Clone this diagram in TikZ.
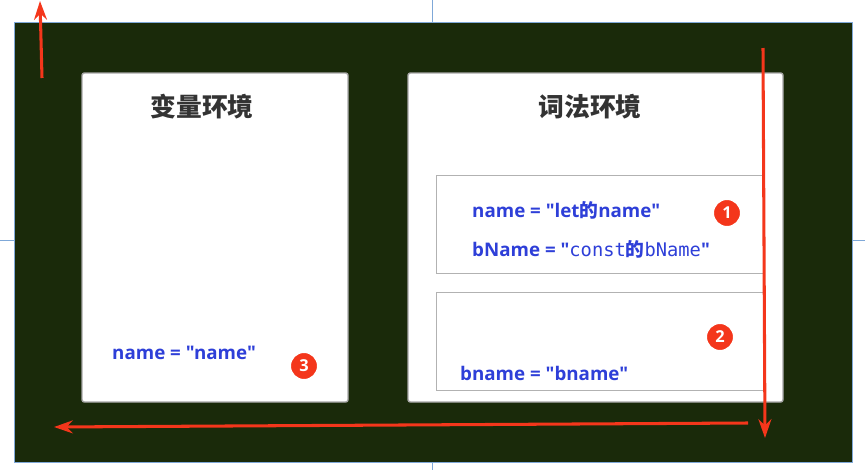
\documentclass[tikz,border=0pt]{standalone}
\usepackage{fontspec}
\setmainfont{Open Sans}[Ligatures=TeXOff]
\newfontfamily\cjk{Noto Sans CJK SC}[Ligatures=TeXOff]
\newfontfamily\codemono{DejaVu Sans Mono}[Ligatures=TeXOff]
\usepackage{xcolor}
\usetikzlibrary{arrows.meta, positioning}

\definecolor{bgdark}{HTML}{1A2A0A}
\definecolor{codeblue}{HTML}{2E3FD8}
\definecolor{markred}{HTML}{F4361B}
\definecolor{guideblue}{HTML}{7FA8D8}

\begin{document}
\begin{tikzpicture}[
  x=0.03cm, y=-0.03cm,
  every node/.style={font=\bfseries},
  envbox/.style={draw=gray!70, fill=white, line width=1.2pt, rounded corners=2pt},
  subbox/.style={draw=gray!60, fill=white, line width=0.6pt},
  title/.style={font=\fontsize{22}{26}\selectfont\cjk\bfseries, text=black!80},
  code/.style={font=\fontsize{16}{18}\selectfont\bfseries, text=codeblue, anchor=west, inner sep=0pt},
  badge/.style={circle, fill=markred, draw=white, line width=2pt, text=white,
                minimum size=0.85cm, inner sep=0pt, font=\fontsize{14}{15}\selectfont\bfseries},
  redarrow/.style={-{Stealth[length=16pt, width=11pt]}, draw=markred, line width=2.6pt}
]
  \useasboundingbox (0,0) rectangle (865,470);

  % Guides
  \draw[guideblue, line width=0.5pt] (432,0) -- (432,22);
  \draw[guideblue, line width=0.5pt] (432,462) -- (432,470);
  \draw[guideblue, line width=0.5pt] (0,240) -- (14,240);
  \draw[guideblue, line width=0.5pt] (852,240) -- (865,240);

  % Background
  \node[draw=guideblue, fill=bgdark, line width=0.8pt, minimum width=838*0.03cm,
        minimum height=440*0.03cm, inner sep=0pt] (frame) at (433,242) {};

  % Variable environment
  \draw[envbox] (82,73) rectangle (348,402);
  \node[title] (varenv) at (202,107) {变量环境};
  \node[code] (vname) at (112,353) {name = "name"};
  \node[badge] (b3) at (304,366) {3};

  % Lexical environment
  \draw[envbox] (408,73) rectangle (783,402);
  \node[title] (lexenv) at (590,107) {词法环境};
  \draw[subbox] (436,175) rectangle (763,273);
  \node[code] (lname) at (472,210) {name = "let{\cjk 的}name"};
  \node[code] (bconst) at (472,249) {bName = "{\codemono\mdseries const}{\cjk 的}{\codemono\mdseries bName}"};
  \node[badge] (b1) at (727,213) {1};
  \draw[subbox] (436,292) rectangle (763,390);
  \node[code] (bname) at (460,373) {bname = "bname"};
  \node[badge] (b2) at (720,337) {2};

  % Lookup path
  \coordinate (upfrom) at (42,78);
  \coordinate (upto) at (40,1);
  \coordinate (downfrom) at (763,48);
  \coordinate (downto) at (765,438);
  \coordinate (leftfrom) at (748,423);
  \coordinate (leftto) at (54,427);
  \draw[redarrow] (upfrom) -- (upto);
  \draw[redarrow] (downfrom) -- (downto);
  \draw[redarrow] (leftfrom) -- (leftto);
\end{tikzpicture}
\end{document}
